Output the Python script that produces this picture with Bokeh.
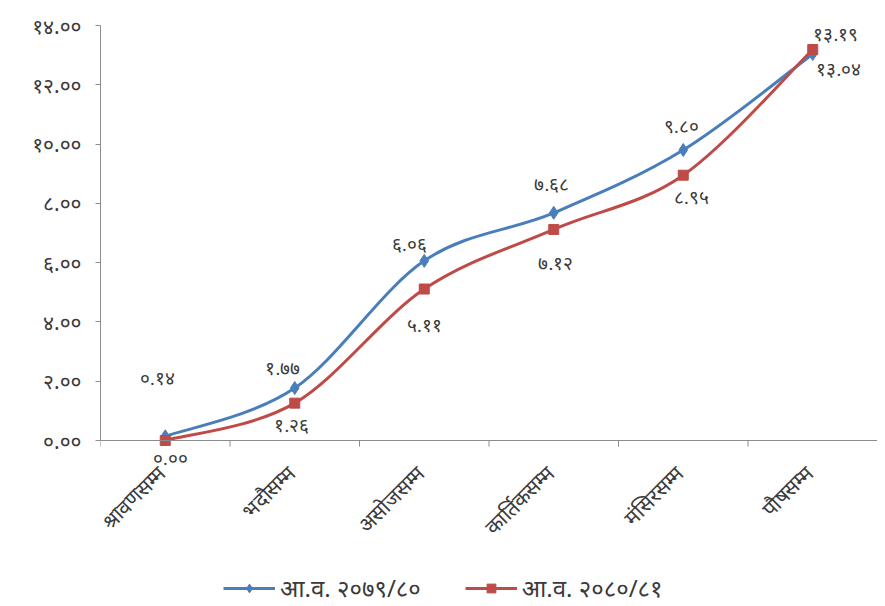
import math
from bokeh.plotting import figure
from bokeh.models import (ColumnDataSource, LabelSet, Legend, LegendItem,
                          FixedTicker, Range1d, Span)
from bokeh.embed import file_html
from bokeh.resources import INLINE

# ---------------- data ----------------
months = ["श्रावणसम्म", "भदौसम्म", "असोजसम्म", "कार्तिकसम्म", "मंसिरसम्म", "पौषसम्म"]
fy_7980 = [0.14, 1.77, 6.06, 7.68, 9.80, 13.04]
fy_8081 = [0.00, 1.26, 5.11, 7.12, 8.95, 13.19]
series_names = ["आ.व. २०७९/८०", "आ.व. २०८०/८१"]
y_ticks = [0, 2, 4, 6, 8, 10, 12, 14]

# ---------------- label placement (style, not data) ----------------
lab_dx_1 = [-8, -12, -15, -2, -2, 26]
lab_dy_1 = [58, 20, 16, 28, 24, -16]
lab_dx_2 = [5, -3, 0, 2, 8, 23]
lab_dy_2 = [-18, -22, -36, -34, -22, 15]

DEV = str.maketrans("0123456789", "०१२३४५६७८९")


def dev(v):
    return f"{v:.2f}".translate(DEV)


BLUE = "#4A7EBB"
RED = "#BE4B48"
TXT = "#3a3a3a"
AX = "#8c8c8c"
FONT = "Noto Sans"

xs = [i + 1 for i in range(len(months))]

# plot area: value axis 0..14 occupies 415 px, extra room below for labels
PLOT_H = 415
FRAME_H = 579
y_top = max(y_ticks)
px_per_unit = PLOT_H / y_top
y_bottom = -(FRAME_H - PLOT_H) / px_per_unit

p = figure(frame_width=777, frame_height=FRAME_H,
           x_range=Range1d(0.5, len(months) + 0.5),
           y_range=Range1d(y_bottom, y_top),
           output_backend="svg", toolbar_location=None,
           min_border_left=100, min_border_top=25, min_border_right=0,
           min_border_bottom=0)
p.outline_line_color = None
p.xgrid.grid_line_color = None
p.ygrid.grid_line_color = None
p.background_fill_color = "white"
p.border_fill_color = "white"

# y axis
p.yaxis.ticker = FixedTicker(ticks=y_ticks)
p.yaxis.bounds = (0, y_top)
p.yaxis.major_label_overrides = {t: dev(t) for t in y_ticks}
p.yaxis.axis_line_color = AX
p.yaxis.major_tick_line_color = AX
p.yaxis.major_tick_in = 0
p.yaxis.major_tick_out = 5
p.yaxis.minor_tick_line_color = None
p.yaxis.major_label_text_font = FONT
p.yaxis.major_label_text_font_size = "21px"
p.yaxis.major_label_text_color = TXT
p.yaxis.major_label_standoff = 14

# category axis drawn at value 0
p.xaxis.visible = False
p.add_layout(Span(location=0, dimension="width", line_color=AX, line_width=1))
bounds = [i + 0.5 for i in range(len(months) + 1)]
tick_len = 6 / px_per_unit
p.segment(x0=bounds, y0=[0] * len(bounds), x1=bounds,
          y1=[-tick_len] * len(bounds), line_color=AX, line_width=1)

cat_src = ColumnDataSource(dict(x=xs, y=[0] * len(xs), t=months))
p.add_layout(LabelSet(x="x", y="y", text="t", source=cat_src,
                      x_offset=-3, y_offset=-29, angle=math.pi / 4,
                      text_align="right", text_baseline="middle",
                      text_font=FONT, text_font_size="21px",
                      text_color=TXT))


def smooth(xv, yv):
    n = len(xv)
    out = dict(x0=[], y0=[], x1=[], y1=[], cx0=[], cy0=[], cx1=[], cy1=[])
    for i in range(n - 1):
        a = i - 1 if i > 0 else i
        d = i + 2 if i + 2 < n else i + 1
        out["x0"].append(xv[i]); out["y0"].append(yv[i])
        out["x1"].append(xv[i + 1]); out["y1"].append(yv[i + 1])
        out["cx0"].append(xv[i] + (xv[i + 1] - xv[a]) / 6)
        out["cy0"].append(yv[i] + (yv[i + 1] - yv[a]) / 6)
        out["cx1"].append(xv[i + 1] - (xv[d] - xv[i]) / 6)
        out["cy1"].append(yv[i + 1] - (yv[d] - yv[i]) / 6)
    return ColumnDataSource(out)


items = []
specs = [(fy_7980, BLUE, "diamond", 13, lab_dx_1, lab_dy_1),
         (fy_8081, RED, "square", 10, lab_dx_2, lab_dy_2)]
for (vals, col, mk, sz, dx, dy), name in zip(specs, series_names):
    p.bezier(x0="x0", y0="y0", x1="x1", y1="y1", cx0="cx0", cy0="cy0",
             cx1="cx1", cy1="cy1", source=smooth(xs, vals),
             line_color=col, line_width=3)
    src = ColumnDataSource(dict(x=xs, y=vals, t=[dev(v) for v in vals],
                                dx=dx, dy=dy))
    sc = p.scatter("x", "y", source=src, marker=mk, size=sz,
                   fill_color=col, line_color=col)
    lab = LabelSet(x="x", y="y", text="t", x_offset="dx", y_offset="dy",
                   source=src, text_align="center", text_baseline="middle",
                   text_font=FONT, text_font_size="19px", text_color=TXT)
    p.add_layout(lab)
    # single-point line: draws nothing on the plot, gives the legend its line
    ln = p.line(x=xs[:1], y=vals[:1], line_color=col, line_width=3)
    items.append(LegendItem(label=name, renderers=[ln, sc]))

legend = Legend(items=items, orientation="horizontal", location=(123, 0),
                glyph_width=52, glyph_height=22, label_text_font=FONT,
                label_text_font_size="24px", label_text_color=TXT,
                spacing=44, padding=0, margin=0, border_line_color=None,
                background_fill_alpha=0, label_standoff=5)
p.add_layout(legend, "center")

open("out.html", "w").write(file_html(p, INLINE))
